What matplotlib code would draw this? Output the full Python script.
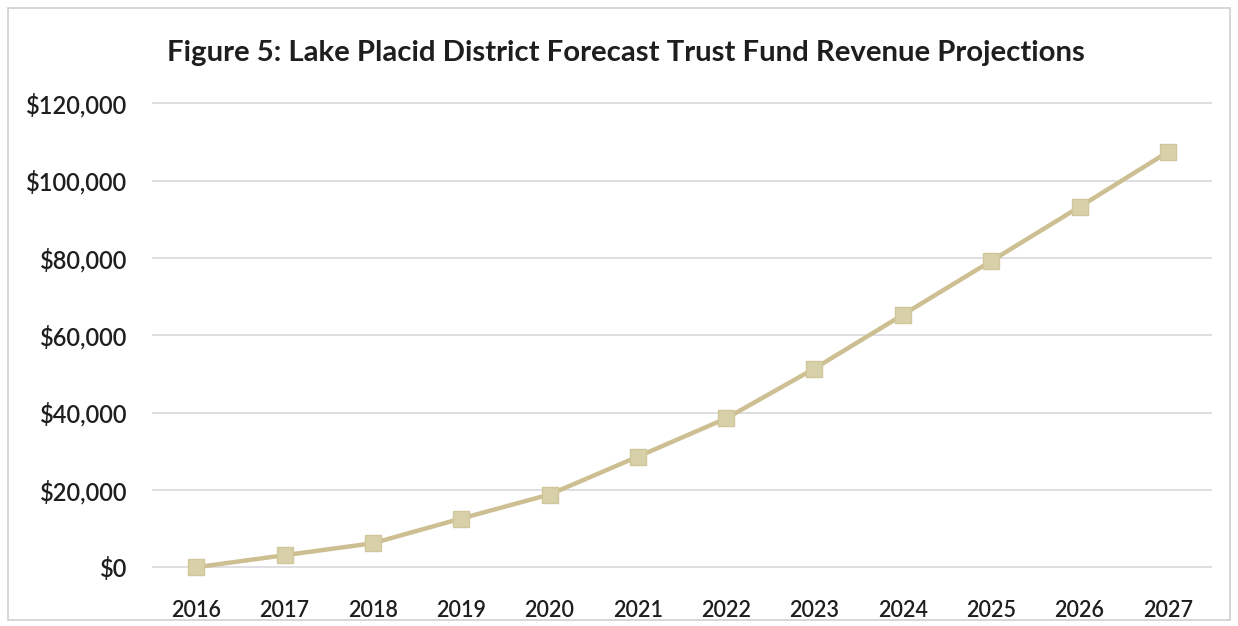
import matplotlib
matplotlib.use("Agg")
import matplotlib.pyplot as plt
from matplotlib.ticker import FuncFormatter
from matplotlib.patches import Rectangle

years = ["2016", "2017", "2018", "2019", "2020", "2021",
         "2022", "2023", "2024", "2025", "2026", "2027"]
revenue = [0, 3100, 6200, 12600, 18800, 28600,
           38500, 51400, 65300, 79200, 93200, 107400]
y_ticks = [0, 20000, 40000, 60000, 80000, 100000, 120000]

plt.rcParams["font.family"] = ["Lato", "DejaVu Sans"]

fig = plt.figure(figsize=(12.38, 6.26), dpi=100)
ax = fig.add_axes([152 / 1238, 1 - 585 / 626, (1212 - 152) / 1238, (585 - 84) / 626])

x = list(range(len(years)))
ax.plot(x, revenue, color="#CDBF92", linewidth=3.2, zorder=3,
        marker="s", markersize=11, markerfacecolor="#D8D0A8",
        markeredgecolor="#CFC69A", markeredgewidth=1)

ax.set_xlim(-0.5, len(years) - 0.5)
ax.set_ylim(-4600, 125000)
ax.set_yticks(y_ticks)
ax.yaxis.set_major_formatter(FuncFormatter(lambda v, p: f"${int(v):,}"))
ax.set_xticks(x)
ax.set_xticklabels(years)
ax.grid(axis="y", color="#D9D9DE", linewidth=1.2)
ax.set_axisbelow(True)
for s in ax.spines.values():
    s.set_visible(False)
ax.tick_params(axis="y", length=0, labelsize=17, pad=18)
ax.tick_params(axis="x", length=0, labelsize=15.5, pad=11)
for lbl in ax.get_xticklabels() + ax.get_yticklabels():
    lbl.set_fontweight("semibold")
    lbl.set_color("#1e1e1e")

fig.text(626 / 1238, 1 - 53 / 626,
         "Figure 5: Lake Placid District Forecast Trust Fund Revenue Projections",
         ha="center", va="center", fontsize=21.2, fontweight="bold", color="#1e1e1e")

fig.patches.append(Rectangle((8 / 1238, 6 / 626), 1222 / 1238, 612 / 626,
                             transform=fig.transFigure, fill=False,
                             edgecolor="#CFCFCF", linewidth=1.2))

fig.savefig("out.png", dpi=100, facecolor="white")
